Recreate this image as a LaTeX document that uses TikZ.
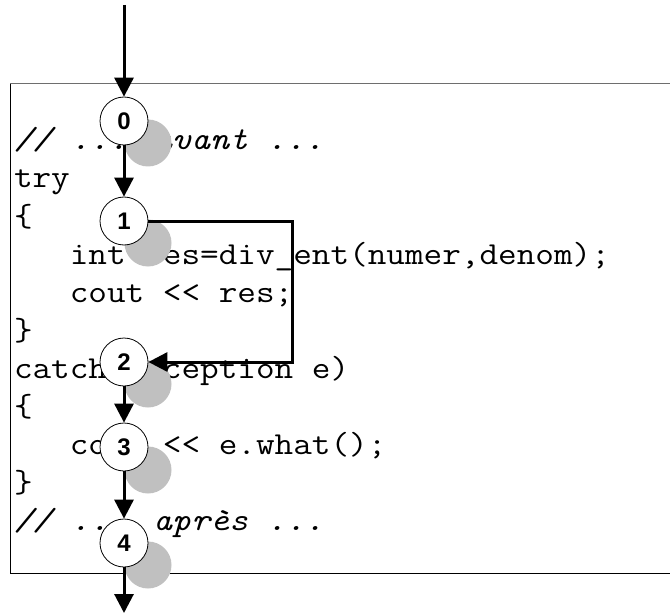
\documentclass[tikz,border=0pt]{standalone}
\usepackage{fontspec}
\newfontfamily\lblfont{Liberation Sans}
\usetikzlibrary{arrows.meta}
\newcommand\codefont{\ttfamily\fontsize{32bp}{38bp}\selectfont}
\newcommand\codeline[1]{\scalebox{1.13}[1]{#1}}
\newcommand\ind{\hphantom{xxx}}
\definecolor{shadowgray}{RGB}{192,192,192}
\definecolor{frametop}{RGB}{110,110,110}
\begin{document}
\begin{tikzpicture}[x=1bp,y=-1bp,
  code/.style={anchor=base west, inner sep=0pt, outer sep=0pt, font=\codefont},
  stepcircle/.style={circle, draw=black, line width=0.8bp, fill=white, minimum size=48bp, inner sep=0pt, font=\lblfont\bfseries\fontsize{24bp}{24bp}\selectfont},
  shadowcircle/.style={circle, fill=shadowgray, minimum size=47bp, inner sep=0pt},
  flow/.style={line width=3bp, -{Triangle[length=19bp,width=19bp]}},
  frame/.style={line width=1bp, draw=black}
]
\useasboundingbox (0,0) rectangle (670,613);
% frame
\draw[line width=1bp, frametop] (671,84) -- (10,84);
\draw[frame] (10,84) -- (10,573) -- (671,573);
% code
\node[code] (l0) at (14,150) {\codeline{\textit{// ... avant ...}}};
\node[code] (l1) at (14,188) {\codeline{try}};
\node[code] (l2) at (14,226) {\codeline{\{}};
\node[code] (l3) at (14,264) {\codeline{\ind int res=div\_ent(numer,denom);}};
\node[code] (l4) at (14,302) {\codeline{\ind cout <{}< res;}};
\node[code] (l5) at (14,340) {\codeline{\}}};
\node[code] (l6) at (14,378) {\codeline{catch(exception e)}};
\node[code] (l7) at (14,416) {\codeline{\{}};
\node[code] (l8) at (14,454) {\codeline{\ind cout <{}< e.what();}};
\node[code] (l9) at (14,492) {\codeline{\}}};
\node[code] (l10) at (14,530) {\codeline{\textit{// ... après ...}}};
% shadows
\node[shadowcircle] (g0) at (148,143) {};
\node[shadowcircle] (g1) at (148,243) {};
\node[shadowcircle] (g2) at (148,384) {};
\node[shadowcircle] (g3) at (148,470) {};
\node[shadowcircle] (g4) at (148,565) {};
% steps
\node[stepcircle] (c0) at (124,121) {0};
\node[stepcircle] (c1) at (124,221) {1};
\node[stepcircle] (c2) at (124,362) {2};
\node[stepcircle] (c3) at (124,447) {3};
\node[stepcircle] (c4) at (124,543) {4};
% connectors
\coordinate (top) at (124,5);
\coordinate (bot) at (124,613);
\coordinate (kx) at (292,0);
\draw[flow] (top) -- (c0.north);
\draw[flow] (c0.south) -- (c1.north);
\draw[flow] (c1.east) -- (c1.east -| kx) -- (c2.east -| kx) -- (c2.east);
\draw[flow] (c2.south) -- (c3.north);
\draw[flow] (c3.south) -- (c4.north);
\draw[flow] (c4.south) -- (bot);
\end{tikzpicture}
\end{document}
